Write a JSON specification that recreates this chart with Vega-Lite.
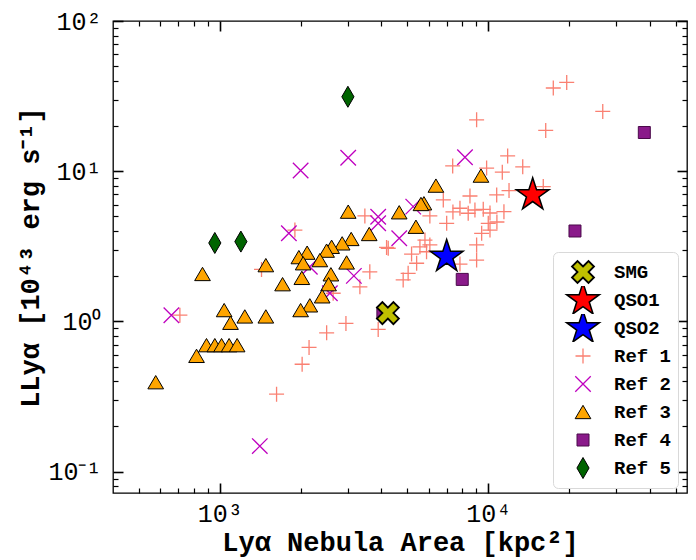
{
  "$schema": "https://vega.github.io/schema/vega-lite/v6.json",
  "width": 574,
  "height": 472,
  "autosize": {"type": "none"},
  "padding": {"left": 113, "top": 21, "right": 9, "bottom": 67},
  "config": {
    "font": "Liberation Mono",
    "view": {"stroke": "#000", "strokeWidth": 1.3},
    "axis": {
      "domain": false, "grid": false, "tickColor": "#000",
      "labelFont": "Liberation Mono", "labelFontSize": 25, "labelColor": "#000",
      "titleFont": "Liberation Mono", "titleFontWeight": "bold", "titleColor": "#000"
    }
  },
  "data": {"values": [
    {"a": 17470, "l": 35.8, "s": "Ref 1"}, {"a": 19600, "l": 39.0, "s": "Ref 1"}, {"a": 26700, "l": 25.0, "s": "Ref 1"},
    {"a": 9050, "l": 22.0, "s": "Ref 1"}, {"a": 16370, "l": 18.7, "s": "Ref 1"}, {"a": 11810, "l": 12.65, "s": "Ref 1"},
    {"a": 13440, "l": 10.7, "s": "Ref 1"}, {"a": 7370, "l": 10.85, "s": "Ref 1"}, {"a": 9860, "l": 10.5, "s": "Ref 1"},
    {"a": 11280, "l": 9.85, "s": "Ref 1"}, {"a": 16030, "l": 7.9, "s": "Ref 1"}, {"a": 11950, "l": 7.43, "s": "Ref 1"},
    {"a": 10750, "l": 6.95, "s": "Ref 1"}, {"a": 6800, "l": 6.44, "s": "Ref 1"}, {"a": 7845, "l": 5.67, "s": "Ref 1"},
    {"a": 8920, "l": 5.52, "s": "Ref 1"}, {"a": 9580, "l": 5.58, "s": "Ref 1"}, {"a": 8420, "l": 5.25, "s": "Ref 1"},
    {"a": 11440, "l": 5.38, "s": "Ref 1"}, {"a": 6060, "l": 5.04, "s": "Ref 1"}, {"a": 7000, "l": 4.5, "s": "Ref 1"},
    {"a": 10000, "l": 4.5, "s": "Ref 1"}, {"a": 10150, "l": 4.06, "s": "Ref 1"}, {"a": 9450, "l": 3.86, "s": "Ref 1"},
    {"a": 5810, "l": 3.48, "s": "Ref 1"}, {"a": 6060, "l": 3.23, "s": "Ref 1"}, {"a": 5565, "l": 3.14, "s": "Ref 1"},
    {"a": 4240, "l": 3.07, "s": "Ref 1"}, {"a": 9050, "l": 3.23, "s": "Ref 1"}, {"a": 5890, "l": 2.91, "s": "Ref 1"},
    {"a": 5180, "l": 2.81, "s": "Ref 1"}, {"a": 9050, "l": 2.56, "s": "Ref 1"}, {"a": 7845, "l": 2.41, "s": "Ref 1"},
    {"a": 5410, "l": 2.44, "s": "Ref 1"}, {"a": 5030, "l": 2.09, "s": "Ref 1"}, {"a": 4820, "l": 1.89, "s": "Ref 1"},
    {"a": 3470, "l": 5.04, "s": "Ref 1"}, {"a": 1904, "l": 4.06, "s": "Ref 1"}, {"a": 4180, "l": 3.11, "s": "Ref 1"},
    {"a": 1430, "l": 2.22, "s": "Ref 1"}, {"a": 3620, "l": 2.14, "s": "Ref 1"}, {"a": 3325, "l": 1.7, "s": "Ref 1"},
    {"a": 2644, "l": 1.54, "s": "Ref 1"}, {"a": 710, "l": 1.1, "s": "Ref 1"}, {"a": 2950, "l": 0.97, "s": "Ref 1"},
    {"a": 2500, "l": 0.84, "s": "Ref 1"}, {"a": 3890, "l": 0.885, "s": "Ref 1"}, {"a": 2150, "l": 0.671, "s": "Ref 1"},
    {"a": 2026, "l": 0.519, "s": "Ref 1"}, {"a": 1627, "l": 0.328, "s": "Ref 1"}, {"a": 7386, "l": 5.36, "s": "Ref 1"},
    {"a": 10150, "l": 5.27, "s": "Ref 1"}, {"a": 10770, "l": 4.59, "s": "Ref 1"}, {"a": 8548, "l": 6.84, "s": "Ref 1"},
    {"a": 660, "l": 1.1, "s": "Ref 2"}, {"a": 1409, "l": 0.148, "s": "Ref 2"}, {"a": 2000, "l": 10.1, "s": "Ref 2"},
    {"a": 1808, "l": 3.86, "s": "Ref 2"}, {"a": 3008, "l": 12.3, "s": "Ref 2"}, {"a": 3890, "l": 4.98, "s": "Ref 2"},
    {"a": 3890, "l": 4.5, "s": "Ref 2"}, {"a": 3158, "l": 2.01, "s": "Ref 2"}, {"a": 2570, "l": 1.54, "s": "Ref 2"},
    {"a": 2164, "l": 2.31, "s": "Ref 2"}, {"a": 4660, "l": 3.58, "s": "Ref 2"}, {"a": 5254, "l": 5.81, "s": "Ref 2"},
    {"a": 8190, "l": 12.4, "s": "Ref 2"},
    {"a": 3008, "l": 5.38, "s": "Ref 3"}, {"a": 3602, "l": 3.82, "s": "Ref 3"}, {"a": 3086, "l": 3.54, "s": "Ref 3"},
    {"a": 2856, "l": 3.31, "s": "Ref 3"}, {"a": 2609, "l": 3.14, "s": "Ref 3"}, {"a": 2499, "l": 2.96, "s": "Ref 3"},
    {"a": 2115, "l": 2.87, "s": "Ref 3"}, {"a": 1970, "l": 2.68, "s": "Ref 3"}, {"a": 2359, "l": 2.56, "s": "Ref 3"},
    {"a": 2044, "l": 2.44, "s": "Ref 3"}, {"a": 2967, "l": 2.47, "s": "Ref 3"}, {"a": 1484, "l": 2.37, "s": "Ref 3"},
    {"a": 862, "l": 2.07, "s": "Ref 3"}, {"a": 2593, "l": 2.06, "s": "Ref 3"}, {"a": 2021, "l": 1.95, "s": "Ref 3"},
    {"a": 1713, "l": 1.77, "s": "Ref 3"}, {"a": 2542, "l": 1.77, "s": "Ref 3"}, {"a": 2406, "l": 1.47, "s": "Ref 3"},
    {"a": 2164, "l": 1.28, "s": "Ref 3"}, {"a": 2000, "l": 1.19, "s": "Ref 3"}, {"a": 1038, "l": 1.19, "s": "Ref 3"},
    {"a": 1239, "l": 1.08, "s": "Ref 3"}, {"a": 1484, "l": 1.08, "s": "Ref 3"}, {"a": 1096, "l": 0.98, "s": "Ref 3"},
    {"a": 892, "l": 0.695, "s": "Ref 3"}, {"a": 958, "l": 0.695, "s": "Ref 3"}, {"a": 1015, "l": 0.695, "s": "Ref 3"},
    {"a": 1083, "l": 0.695, "s": "Ref 3"}, {"a": 1160, "l": 0.695, "s": "Ref 3"}, {"a": 819, "l": 0.59, "s": "Ref 3"},
    {"a": 577, "l": 0.394, "s": "Ref 3"}, {"a": 9394, "l": 9.35, "s": "Ref 3"}, {"a": 6383, "l": 8.02, "s": "Ref 3"},
    {"a": 5759, "l": 6.12, "s": "Ref 3"}, {"a": 5614, "l": 6.05, "s": "Ref 3"}, {"a": 4659, "l": 5.33, "s": "Ref 3"},
    {"a": 5377, "l": 4.27, "s": "Ref 3"},
    {"a": 4050, "l": 1.136, "s": "Ref 4"}, {"a": 38140, "l": 18.1, "s": "Ref 4"}, {"a": 21040, "l": 4.0, "s": "Ref 4"},
    {"a": 8000, "l": 1.905, "s": "Ref 4"},
    {"a": 958, "l": 3.33, "s": "Ref 5"}, {"a": 1198, "l": 3.4, "s": "Ref 5"}, {"a": 3000, "l": 31.3, "s": "Ref 5"},
    {"a": 4228, "l": 1.136, "s": "SMG"},
    {"a": 14640, "l": 6.95, "s": "QSO1"},
    {"a": 7000, "l": 2.7, "s": "QSO2"}
  ]},
  "layer": [
    {
      "mark": {"type": "point", "filled": true, "opacity": 1},
      "encoding": {
        "x": {"field": "a", "type": "quantitative",
              "scale": {"type": "log", "domain": [400, 55000], "nice": false},
              "axis": {"orient": "bottom", "values": [1000, 10000], "ticks": false, "labelPadding": 8,
                       "labelExpr": "datum.value == 1000 ? '10³' : '10⁴'",
                       "title": "Lyα Nebula Area [kpc²]", "titleFontSize": 27, "titlePadding": 3}},
        "y": {"field": "l", "type": "quantitative",
              "scale": {"type": "log", "domain": [0.0721, 100], "nice": false},
              "axis": {"orient": "left", "values": [0.1, 1, 10, 100], "ticks": false, "labelPadding": 12,
                       "labelExpr": "datum.value < 0.5 ? '10⁻¹' : datum.value < 5 ? '10⁰' : datum.value < 50 ? '10¹' : '10²'",
                       "title": "LLyα [10⁴³ erg s⁻¹]", "titleFontSize": 27, "titlePadding": 3}},
        "shape": {"field": "s", "type": "nominal",
                  "scale": {"domain": ["SMG", "QSO1", "QSO2", "Ref 1", "Ref 2", "Ref 3", "Ref 4", "Ref 5"],
                            "range": [
                              "M0,-0.5L0.5,-1L1,-0.5L0.5,0L1,0.5L0.5,1L0,0.5L-0.5,1L-1,0.5L-0.5,0L-1,-0.5L-0.5,-1Z",
                              "M0,-1L0.2245,-0.309L0.9511,-0.309L0.3633,0.118L0.5878,0.809L0,0.382L-0.5878,0.809L-0.3633,0.118L-0.9511,-0.309L-0.2245,-0.309Z",
                              "M0,-1L0.2245,-0.309L0.9511,-0.309L0.3633,0.118L0.5878,0.809L0,0.382L-0.5878,0.809L-0.3633,0.118L-0.9511,-0.309L-0.2245,-0.309Z",
                              "M-1,0L1,0M0,-1L0,1",
                              "M-1,-1L1,1M-1,1L1,-1",
                              "M0,-0.85L1,0.85L-1,0.85Z",
                              "square",
                              "M0,-1L0.58,0L0,1L-0.58,0Z"
                            ]},
                  "legend": {"orient": "none", "legendX": 440, "legendY": 231, "title": null, "padding": 6,
                             "clipHeight": 28, "labelOffset": 13, "symbolOffset": 6,
                             "fillColor": "rgba(255,255,255,0.85)", "strokeColor": "#d9d9d9", "cornerRadius": 5,
                             "labelFont": "Liberation Mono", "labelFontWeight": "bold", "labelFontSize": 19,
                             "labelColor": "#000", "rowPadding": 0}},
        "fill": {"field": "s", "type": "nominal",
                 "scale": {"domain": ["SMG", "QSO1", "QSO2", "Ref 1", "Ref 2", "Ref 3", "Ref 4", "Ref 5"],
                           "range": ["#bfbf00", "#ff0000", "#0000ff", "transparent", "transparent", "#ffa500", "#8a1a8a", "#006400"]}},
        "stroke": {"field": "s", "type": "nominal",
                   "scale": {"domain": ["SMG", "QSO1", "QSO2", "Ref 1", "Ref 2", "Ref 3", "Ref 4", "Ref 5"],
                             "range": ["#000000", "#000000", "#000000", "#fa8072", "#bf00bf", "#000000", "#4a0a4a", "#000000"]}},
        "size": {"field": "s", "type": "nominal",
                 "scale": {"type": "ordinal", "domain": ["SMG", "QSO1", "QSO2", "Ref 1", "Ref 2", "Ref 3", "Ref 4", "Ref 5"],
                           "range": [484, 1185, 1185, 225, 240, 246, 144, 441]}},
        "strokeWidth": {"field": "s", "type": "nominal",
                        "scale": {"type": "ordinal", "domain": ["SMG", "QSO1", "QSO2", "Ref 1", "Ref 2", "Ref 3", "Ref 4", "Ref 5"],
                                  "range": [1.8, 1.5, 1.5, 1.3, 1.3, 1, 1, 1]}}
      }
    },
    {
      "mark": {"type": "point", "opacity": 0},
      "encoding": {
        "x": {"field": "a", "type": "quantitative", "scale": {"type": "log", "domain": [400, 55000], "nice": false},
              "axis": {"orient": "bottom", "values": [1000, 10000], "labels": false, "title": null, "tickSize": -10, "tickWidth": 1.6}},
        "y": {"field": "l", "type": "quantitative", "scale": {"type": "log", "domain": [0.0721, 100], "nice": false},
              "axis": {"orient": "left", "values": [0.1, 1, 10, 100], "labels": false, "title": null, "tickSize": -10, "tickWidth": 1.6}}
      }
    },
    {
      "mark": {"type": "point", "opacity": 0},
      "encoding": {
        "x": {"field": "a", "type": "quantitative", "scale": {"type": "log", "domain": [400, 55000], "nice": false},
              "axis": {"orient": "bottom", "values": [500, 600, 700, 800, 900, 2000, 3000, 4000, 5000, 6000, 7000, 8000, 9000, 20000, 30000, 40000, 50000],
                       "labels": false, "title": null, "tickSize": -5, "tickWidth": 1.2}},
        "y": {"field": "l", "type": "quantitative", "scale": {"type": "log", "domain": [0.0721, 100], "nice": false},
              "axis": {"orient": "left", "values": [0.08, 0.09, 0.2, 0.3, 0.4, 0.5, 0.6, 0.7, 0.8, 0.9, 2, 3, 4, 5, 6, 7, 8, 9, 20, 30, 40, 50, 60, 70, 80, 90],
                       "labels": false, "title": null, "tickSize": -5, "tickWidth": 1.2}}
      }
    },
    {
      "mark": {"type": "point", "opacity": 0},
      "encoding": {
        "x": {"field": "a", "type": "quantitative", "scale": {"type": "log", "domain": [400, 55000], "nice": false},
              "axis": {"orient": "top", "values": [1000, 10000], "labels": false, "title": null, "tickSize": -10, "tickWidth": 1.6}},
        "y": {"field": "l", "type": "quantitative", "scale": {"type": "log", "domain": [0.0721, 100], "nice": false},
              "axis": {"orient": "right", "values": [0.1, 1, 10, 100], "labels": false, "title": null, "tickSize": -10, "tickWidth": 1.6}}
      }
    },
    {
      "mark": {"type": "point", "opacity": 0},
      "encoding": {
        "x": {"field": "a", "type": "quantitative", "scale": {"type": "log", "domain": [400, 55000], "nice": false},
              "axis": {"orient": "top", "values": [500, 600, 700, 800, 900, 2000, 3000, 4000, 5000, 6000, 7000, 8000, 9000, 20000, 30000, 40000, 50000],
                       "labels": false, "title": null, "tickSize": -5, "tickWidth": 1.2}},
        "y": {"field": "l", "type": "quantitative", "scale": {"type": "log", "domain": [0.0721, 100], "nice": false},
              "axis": {"orient": "right", "values": [0.08, 0.09, 0.2, 0.3, 0.4, 0.5, 0.6, 0.7, 0.8, 0.9, 2, 3, 4, 5, 6, 7, 8, 9, 20, 30, 40, 50, 60, 70, 80, 90],
                       "labels": false, "title": null, "tickSize": -5, "tickWidth": 1.2}}
      }
    }
  ],
  "resolve": {"axis": {"x": "independent", "y": "independent"}}
}
